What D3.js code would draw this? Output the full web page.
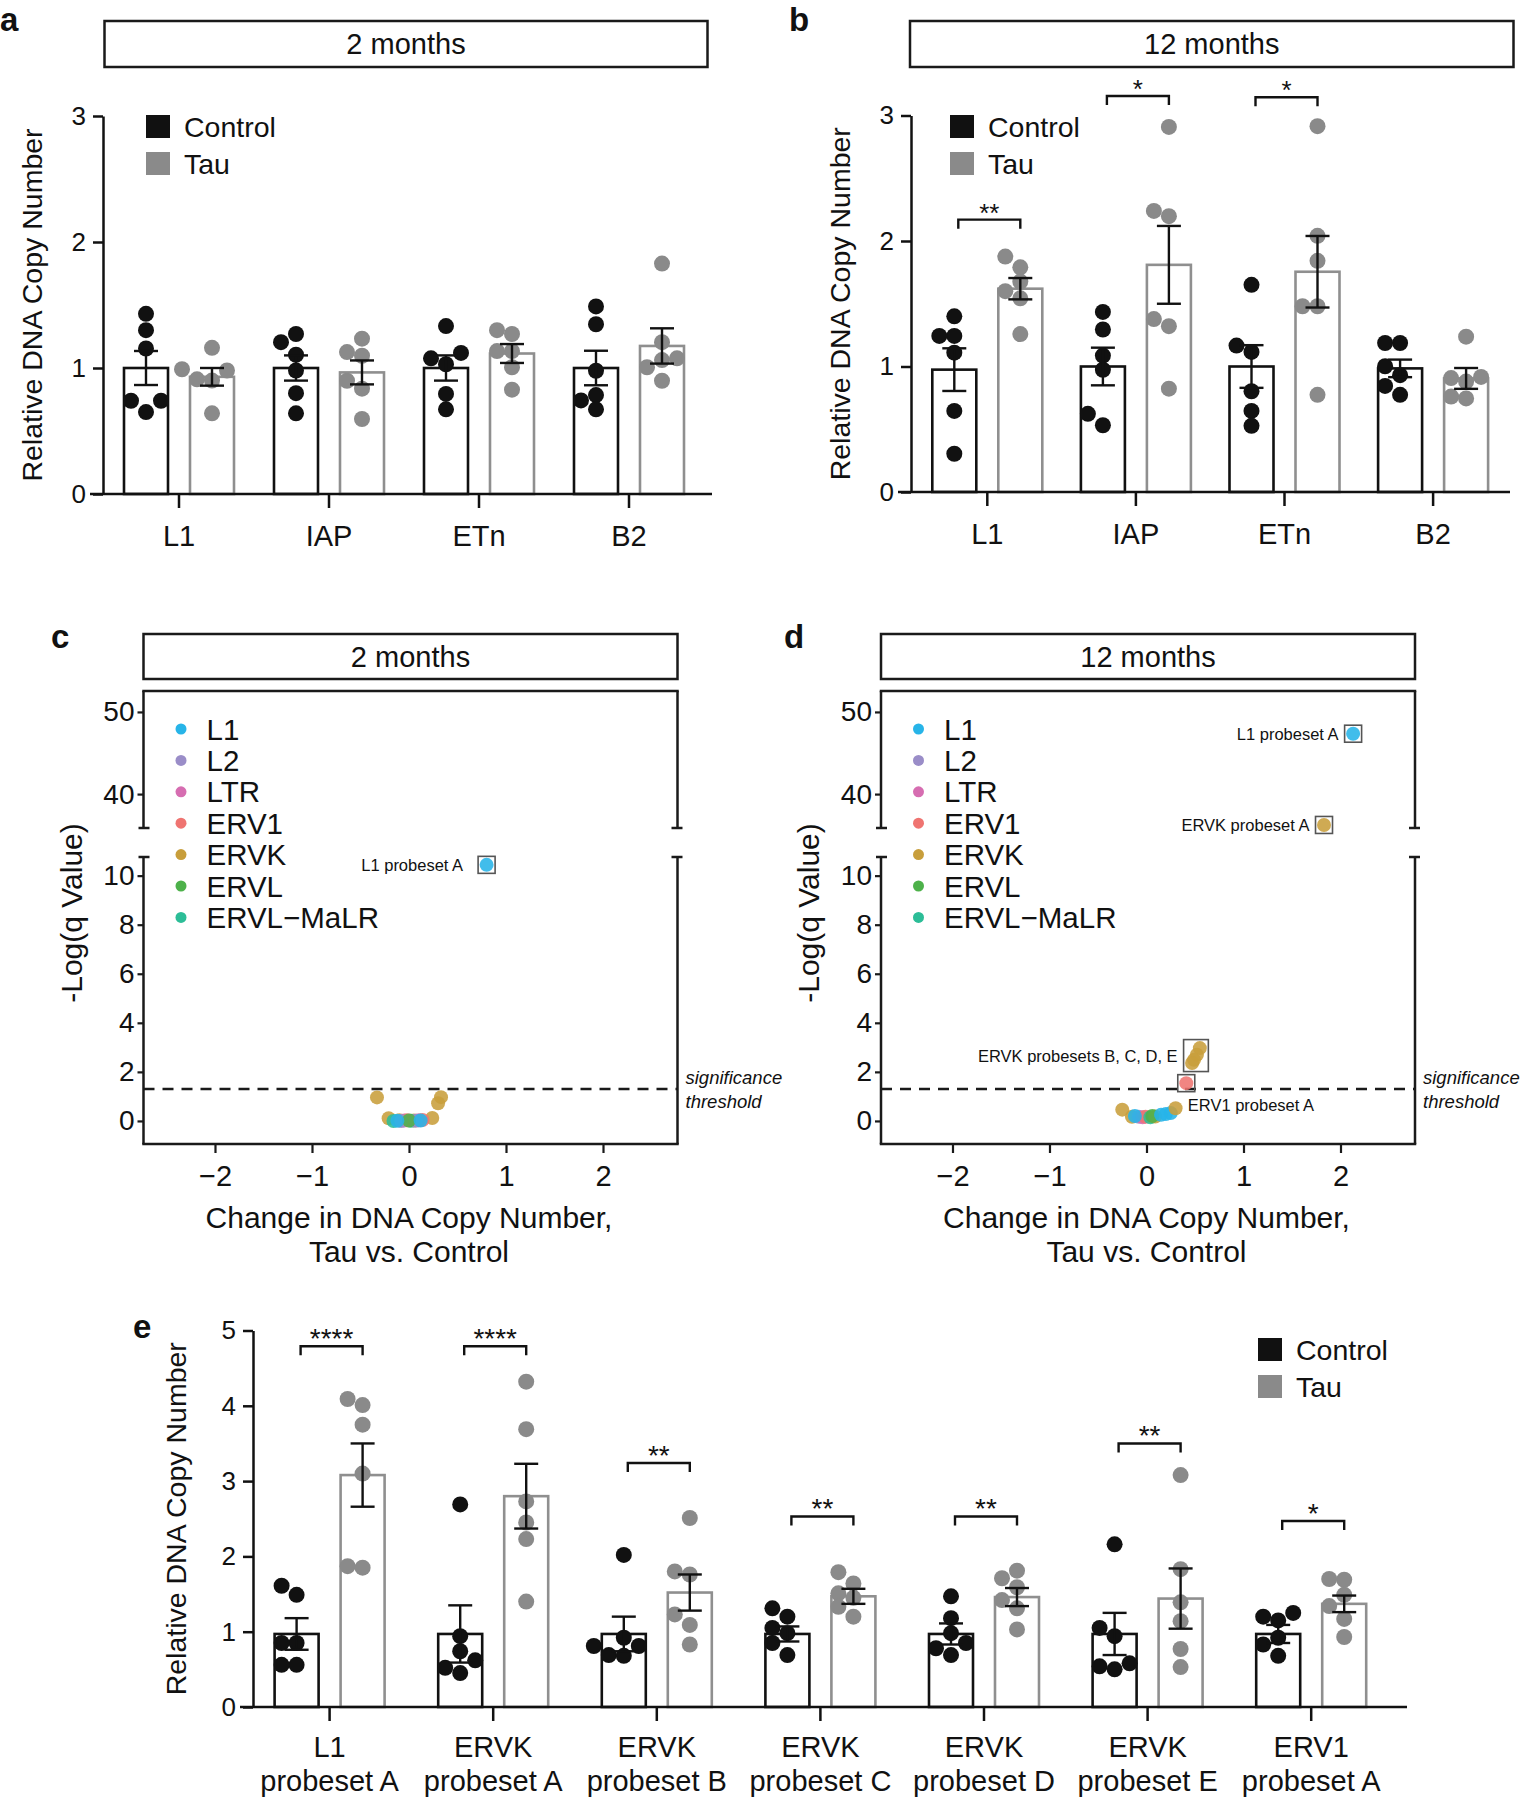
<!DOCTYPE html>
<html><head><meta charset="utf-8">
<script src="https://cdn.jsdelivr.net/npm/d3@7"></script>
<style>
body{margin:0;background:#fff}
svg{display:block}
text{font-family:"Liberation Sans",Arial,Helvetica,sans-serif;fill:#111}
</style>
</head><body>
<svg id="fig" width="1525" height="1800"></svg>
<script>
// ---------------- DATA ----------------
const abCategories = ["L1", "IAP", "ETn", "B2"];
const groups = ["Control", "Tau"];

// Panel a: 2 months
const aControlDots = [[1.43,1.30,1.155,0.74,0.74,0.65],[1.27,1.205,1.105,0.98,0.80,0.64],[1.333,1.12,1.077,1.03,0.794,0.672],[1.489,1.347,0.978,0.785,0.743,0.672]];
const aTauDots     = [[1.16,0.99,0.98,0.91,0.90,0.64],[1.233,1.126,1.097,0.899,0.836,0.595],[1.30,1.27,1.134,1.134,1.006,0.828],[1.829,1.205,1.077,1.063,1.006,0.899]];
const aControlMean = [1.00, 1.00, 1.00, 1.00];
const aControlSem  = [0.135, 0.10, 0.10, 0.137];
const aTauMean     = [0.93, 0.965, 1.115, 1.175];
const aTauSem      = [0.07, 0.095, 0.075, 0.14];
const aYTicks = [0, 1, 2, 3];

// Panel b: 12 months
const bControlDots = [[1.40,1.244,1.244,1.11,0.646,0.305],[1.435,1.295,1.087,0.974,0.623,0.532],[1.651,1.167,1.116,0.803,0.646,0.527],[1.187,1.187,1.002,0.931,0.845,0.774]];
const bTauDots     = [[1.876,1.79,1.677,1.60,1.543,1.258],[2.909,2.24,2.198,1.378,1.321,0.823],[2.915,2.041,1.842,1.48,1.48,0.774],[1.238,0.917,0.908,0.88,0.76,0.746]];
const bControlMean = [0.975, 1.00, 1.00, 0.985];
const bControlSem  = [0.17, 0.15, 0.17, 0.07];
const bTauMean     = [1.62, 1.81, 1.755, 0.905];
const bTauSem      = [0.085, 0.31, 0.285, 0.083];
const bSigCats   = ["L1", "IAP", "ETn"];
const bSigLevel  = [2.17, 3.155, 3.146];
const bSigLabels = ["**", "*", "*"];

// Panel e: probesets
const eCategories = ["L1 probeset A","ERVK probeset A","ERVK probeset B","ERVK probeset C","ERVK probeset D","ERVK probeset E","ERV1 probeset A"];
const eControlDots = [[1.61,1.49,0.85,0.85,0.56,0.56],[2.69,0.94,0.74,0.62,0.52,0.45],[2.02,0.92,0.81,0.81,0.69,0.68],[1.31,1.20,1.05,0.98,0.85,0.69],[1.47,1.18,0.98,0.85,0.78,0.69],[2.16,1.05,0.94,0.58,0.54,0.50],[1.25,1.20,1.15,0.92,0.83,0.68]];
const eTauDots     = [[4.09,4.01,3.75,3.10,1.87,1.85],[4.32,3.69,2.73,2.45,2.23,1.40],[2.51,1.80,1.76,1.23,1.09,0.83],[1.79,1.64,1.51,1.45,1.33,1.20],[1.81,1.71,1.59,1.42,1.31,1.03],[3.08,1.83,1.39,1.14,0.77,0.53],[1.70,1.69,1.49,1.34,1.17,0.93]];
const eControlMean = [0.97, 0.97, 0.97, 0.97, 0.97, 0.97, 0.97];
const eControlSem  = [0.21, 0.38, 0.23, 0.10, 0.14, 0.28, 0.12];
const eTauMean     = [3.08, 2.80, 1.52, 1.47, 1.46, 1.44, 1.37];
const eTauSem      = [0.42, 0.43, 0.24, 0.10, 0.12, 0.40, 0.11];
const eYTicks = [0, 1, 2, 3, 4, 5];
const eSigLevel  = [4.79, 4.79, 3.24, 2.53, 2.53, 3.50, 2.47];
const eSigLabels = ["****", "****", "**", "**", "**", "**", "*"];

// Panels c / d: volcano plots
const families = ["L1", "L2", "LTR", "ERV1", "ERVK", "ERVL", "ERVL\u2212MaLR"];
const familyColors = ["#27B4E8", "#9A8DC8", "#D66DB1", "#EF7471", "#C89E3B", "#4DB14A", "#2CBD97"];
const volcanoXTicks = [-2, -1, 0, 1, 2];
const volcanoUpperTicks = [40, 50];
const volcanoLowerTicks = [0, 2, 4, 6, 8, 10];
const significanceThreshold = 1.301;

const cFamily = ["L1","ERVK","ERVK","ERVK","ERVK","ERVK","ERVK","ERVK","ERVL\u2212MaLR","ERVL\u2212MaLR","LTR","LTR","ERV1","ERV1","L2","L2","ERVL","L1","L1"];
const cChange = [0.80,-0.33,0.33,0.30,-0.21,0.24,-0.10,0.05,-0.16,0.02,-0.05,0.10,-0.02,0.14,0.07,-0.08,0.00,0.12,-0.12];
const cNegLogQ = [10.44,0.96,0.97,0.72,0.11,0.12,0.03,0.02,0.00,0.01,0.02,0.03,0.03,0.04,0.01,0.00,0.02,0.02,0.01];
const cLabels = [{text: "L1 probeset A", points: [0]}];

const dFamily = ["L1","ERVK","ERVK","ERVK","ERVK","ERVK","ERV1","ERVK","ERVK","L2","LTR","ERV1","ERVL\u2212MaLR","ERVK","ERVL","L1","L1","L1","L1","ERVK"];
const dChange = [2.13,1.83,0.55,0.52,0.49,0.47,0.41,-0.25,-0.15,-0.08,-0.04,-0.01,0.04,0.09,0.06,-0.12,0.15,0.20,0.25,0.30];
const dNegLogQ = [47.35,36.24,2.97,2.70,2.49,2.36,1.54,0.46,0.17,0.17,0.15,0.17,0.15,0.18,0.20,0.20,0.25,0.28,0.32,0.52];
const dLabels = [
  {text: "L1 probeset A", points: [0]},
  {text: "ERVK probeset A", points: [1]},
  {text: "ERVK probesets B, C, D, E", points: [2,3,4,5]},
  {text: "ERV1 probeset A", points: [6], below: true}
];

// ---------------- DRAWING ----------------
const svg = d3.select("#fig");
svg.append("rect").attr("width",1525).attr("height",1800).attr("fill","#fff");
const INK = "#111", GREY = "#8a8a8a", GREY_BAR = "#8f8f8f";

function panelLetter(t, x, y){
  svg.append("text").attr("x",x).attr("y",y).attr("font-size",33).attr("font-weight","bold").text(t);
}
function titleBox(t, x0, x1, y0, y1){
  svg.append("rect").attr("x",x0).attr("y",y0).attr("width",x1-x0).attr("height",y1-y0)
    .attr("fill","#fff").attr("stroke","#1a1a1a").attr("stroke-width",2.5);
  svg.append("text").attr("x",(x0+x1)/2).attr("y",(y0+y1)/2).attr("dy","0.36em")
    .attr("text-anchor","middle").attr("font-size",29).text(t);
}

function swarm(vals, y, step, minD){
  const idx = vals.map((v,i)=>i).sort((a,b)=>vals[a]-vals[b]);
  const placed = [];
  const out = new Array(vals.length);
  const offs = [0,-1,1,-2,2,-3,3];
  idx.forEach(i=>{
    const py = y(vals[i]);
    for (const k of offs){
      const px = k*step;
      if (placed.every(p=>Math.hypot(p[0]-px,p[1]-py)>=minD)){ placed.push([px,py]); out[i]=px; break; }
    }
  });
  return out;
}

function barPanel(cfg){
  const g = svg.append("g");
  const y = d3.scaleLinear().domain([0,cfg.yMax]).range([cfg.y0, cfg.yTop]);
  const x = d3.scaleBand().domain(cfg.cats).range(cfg.band).padding(0);
  const cx = c => x(c) + x.bandwidth()/2;
  const off = 33, bw = 44, r = 8;
  const series = [
    {mean: cfg.ctrlMean, sem: cfg.ctrlSem, dots: cfg.ctrlDots, col: INK, barCol: INK, dx: -off},
    {mean: cfg.tauMean, sem: cfg.tauSem, dots: cfg.tauDots, col: GREY, barCol: GREY_BAR, dx: off}
  ];
  series.forEach(s=>{
    g.selectAll(null).data(cfg.cats).enter().append("rect")
      .attr("x", (c)=>cx(c)+s.dx-bw/2).attr("width", bw)
      .attr("y", (c,i)=>y(s.mean[i])).attr("height",(c,i)=>cfg.y0-y(s.mean[i]))
      .attr("fill","#fff").attr("stroke",s.barCol).attr("stroke-width",2.6);
  });
  series.forEach(s=>{
    cfg.cats.forEach((c,i)=>{
      const xs = swarm(s.dots[i], y, 15, 13.5);
      g.selectAll(null).data(s.dots[i]).enter().append("circle")
        .attr("cx",(v,j)=>cx(c)+s.dx+xs[j]).attr("cy",v=>y(v)).attr("r",r).attr("fill",s.col);
    });
  });
  series.forEach(s=>{
    cfg.cats.forEach((c,i)=>{
      const xc = cx(c)+s.dx, lo = y(s.mean[i]-s.sem[i]), hi = y(s.mean[i]+s.sem[i]);
      g.append("line").attr("x1",xc).attr("x2",xc).attr("y1",lo).attr("y2",hi).attr("stroke",INK).attr("stroke-width",2.4);
      [lo,hi].forEach(yy=>g.append("line").attr("x1",xc-12).attr("x2",xc+12).attr("y1",yy).attr("y2",yy).attr("stroke",INK).attr("stroke-width",2.4));
    });
  });
  const ya = g.append("g").attr("transform",`translate(${cfg.yAxisX},0)`)
    .call(d3.axisLeft(y).tickValues(cfg.yTicks).tickFormat(d3.format("d")).tickSize(10).tickSizeOuter(0).tickPadding(7));
  ya.selectAll("path,line").attr("stroke",INK).attr("stroke-width",2.5);
  ya.selectAll("text").attr("font-size",26).attr("fill",INK).attr("font-family",null);
  g.append("line").attr("x1",cfg.yAxisX-13).attr("x2",cfg.xEnd).attr("y1",cfg.y0).attr("y2",cfg.y0).attr("stroke",INK).attr("stroke-width",2.6);
  const xa = g.append("g").attr("transform",`translate(0,${cfg.y0})`)
    .call(d3.axisBottom(x).tickSize(14).tickSizeOuter(0).tickPadding(8).tickFormat(""));
  xa.select(".domain").remove();
  xa.selectAll("line").attr("stroke",INK).attr("stroke-width",2.5);
  xa.selectAll(".tick").each(function(c){
    const lines = cfg.twoLine ? [c.slice(0,c.indexOf(" ")), c.slice(c.indexOf(" ")+1)] : [c];
    lines.forEach((l,k)=>d3.select(this).append("text").attr("y", cfg.labelY[k]-cfg.y0)
      .attr("text-anchor","middle").attr("font-size",29).attr("fill",INK).attr("font-family",null).text(l));
  });
  g.append("text").attr("transform",`translate(${cfg.yTitleX},${(cfg.y0+cfg.yTop)/2}) rotate(-90)`)
    .attr("text-anchor","middle").attr("font-size",28.5).text("Relative DNA Copy Number");
  if (cfg.sig){
    cfg.sig.cats.forEach((c,i)=>{
      const x1 = cx(c)-off+4, x2 = cx(c)+off, yy = y(cfg.sig.level[i]);
      g.append("path").attr("d",`M${x1},${yy+9}V${yy}H${x2}V${yy+9}`).attr("fill","none").attr("stroke",INK).attr("stroke-width",2.4);
      g.append("text").attr("x",(x1+x2)/2).attr("y",yy+2).attr("text-anchor","middle").attr("font-size",cfg.starSize).text(cfg.sig.labels[i]);
    });
  }
  const lg = g.append("g");
  groups.forEach((gname,i)=>{
    lg.append("rect").attr("x",cfg.legX).attr("y",cfg.legY+i*37).attr("width",24).attr("height",23).attr("fill",i?GREY:INK);
    lg.append("text").attr("x",cfg.legX+38).attr("y",cfg.legY+i*37+11.5).attr("dy","0.36em").attr("font-size",28.5).text(gname);
  });
}

panelLetter("a", 0, 31);
titleBox("2 months", 104.5, 707.5, 21, 67);
barPanel({cats: abCategories, ctrlDots: aControlDots, tauDots: aTauDots, ctrlMean: aControlMean, ctrlSem: aControlSem,
  tauMean: aTauMean, tauSem: aTauSem, yMax: 3, yTicks: aYTicks, y0: 494, yTop: 116, band: [104, 704], yAxisX: 103,
  xEnd: 712, labelY: [546], yTitleX: 42, legX: 146, legY: 115});

panelLetter("b", 789, 31);
titleBox("12 months", 910, 1513.5, 21, 67);
barPanel({cats: abCategories, ctrlDots: bControlDots, tauDots: bTauDots, ctrlMean: bControlMean, ctrlSem: bControlSem,
  tauMean: bTauMean, tauSem: bTauSem, yMax: 3, yTicks: aYTicks, y0: 492, yTop: 115.5, band: [913, 1507.4], yAxisX: 911,
  xEnd: 1510, labelY: [544], yTitleX: 850, legX: 950, legY: 115, starSize: 26,
  sig: {cats: bSigCats, level: bSigLevel, labels: bSigLabels}});

panelLetter("e", 133, 1338);
barPanel({cats: eCategories, ctrlDots: eControlDots, tauDots: eTauDots, ctrlMean: eControlMean, ctrlSem: eControlSem,
  tauMean: eTauMean, tauSem: eTauSem, yMax: 5, yTicks: eYTicks, y0: 1707, yTop: 1330.5, band: [247.8, 1393], yAxisX: 253,
  xEnd: 1407, labelY: [1757, 1791], twoLine: true, yTitleX: 186, legX: 1258, legY: 1338, starSize: 28,
  sig: {cats: eCategories, level: eSigLevel, labels: eSigLabels}});

// ---------------- VOLCANO ----------------
function volcano(cfg){
  const g = svg.append("g");
  const x0 = cfg.x0, x1 = cfg.x0 + 534;
  const uTop = 691, uBot = 828, lTop = 857, lBot = 1144;
  const x = d3.scaleLinear().domain([-2.737, 2.768]).range([x0, x1]);
  const yU = d3.scaleLinear().domain([35.87, 52.55]).range([uBot, uTop]);
  const yL = d3.scaleLinear().domain([-0.94, 10.76]).range([lBot, lTop]);
  const Y = v => v > 20 ? yU(v) : yL(v);
  const S = {stroke:"#1a1a1a","stroke-width":2.5};
  const ln = (a,b,c,d)=>{ const l=g.append("line").attr("x1",a).attr("y1",b).attr("x2",c).attr("y2",d); for(const k in S) l.attr(k,S[k]); };
  ln(x0-1.25,uTop,x1+1.25,uTop); ln(x0,uTop,x0,uBot); ln(x1,uTop,x1,uBot);
  ln(x0-5,uBot,x0+6,uBot); ln(x1-6,uBot,x1+5,uBot);
  ln(x0-5,lTop,x0+6,lTop); ln(x1-6,lTop,x1+5,lTop);
  ln(x0,lTop,x0,lBot); ln(x1,lTop,x1,lBot); ln(x0-1.25,lBot,x1+1.25,lBot);
  const styleAx = a => { a.select(".domain").remove(); a.selectAll("line").attr("stroke","#1a1a1a").attr("stroke-width",2.2);
    a.selectAll("text").attr("font-size",28).attr("fill",INK).attr("font-family",null); };
  styleAx(g.append("g").attr("transform",`translate(${x0},0)`).call(d3.axisLeft(yU).tickValues(volcanoUpperTicks).tickSize(6).tickPadding(3)));
  styleAx(g.append("g").attr("transform",`translate(${x0},0)`).call(d3.axisLeft(yL).tickValues(volcanoLowerTicks).tickSize(6).tickPadding(3)));
  const xa = g.append("g").attr("transform",`translate(0,${lBot})`)
    .call(d3.axisBottom(x).tickValues(volcanoXTicks).tickFormat(d3.format("d")).tickSize(9).tickPadding(12));
  styleAx(xa); xa.selectAll("text").attr("font-size",29);
  g.append("text").attr("x",x(0)).attr("y",1228).attr("text-anchor","middle").attr("font-size",30).text("Change in DNA Copy Number,");
  g.append("text").attr("x",x(0)).attr("y",1262).attr("text-anchor","middle").attr("font-size",30).text("Tau vs. Control");
  g.append("text").attr("transform",`translate(${x0-62},913) rotate(-90)`).attr("text-anchor","middle").attr("font-size",30).text("-Log(q Value)");
  g.append("line").attr("x1",x0).attr("x2",x1).attr("y1",yL(significanceThreshold)).attr("y2",yL(significanceThreshold))
    .attr("stroke","#1a1a1a").attr("stroke-width",2.5).attr("stroke-dasharray","11,8");
  g.append("text").attr("x",x1+8).attr("y",1084).attr("font-size",18.5).attr("font-style","italic").text("significance");
  g.append("text").attr("x",x1+8).attr("y",1108).attr("font-size",18.5).attr("font-style","italic").text("threshold");
  families.forEach((f,i)=>{
    const yy = 729 + i*31.4;
    g.append("circle").attr("cx",x0+37.5).attr("cy",yy).attr("r",5.5).attr("fill",familyColors[i]);
    g.append("text").attr("x",x0+63).attr("y",yy).attr("dy","0.36em").attr("font-size",29.5).text(f);
  });
  const col = f => familyColors[families.indexOf(f)];
  g.selectAll(null).data(cfg.fam.map((f,i)=>i)).enter().append("circle")
    .attr("cx",i=>x(cfg.xs[i])).attr("cy",i=>Y(cfg.ys[i])).attr("r",7)
    .attr("fill",i=>col(cfg.fam[i])).attr("fill-opacity",0.88);
  cfg.labels.forEach(a=>{
    const px = a.points.map(i=>x(cfg.xs[i])), py = a.points.map(i=>Y(cfg.ys[i]));
    const bx0 = d3.min(px)-8.5, bx1 = d3.max(px)+8.5, by0 = d3.min(py)-8.5, by1 = d3.max(py)+8.5;
    g.append("rect").attr("x",bx0).attr("y",by0).attr("width",bx1-bx0).attr("height",by1-by0)
      .attr("fill","none").attr("stroke","#555").attr("stroke-width",1.6);
    if (a.below){
      g.append("text").attr("x",bx0+10).attr("y",by1+19).attr("font-size",16.5).text(a.text);
    } else {
      g.append("text").attr("x",bx0-cfg.gap).attr("y",(by0+by1)/2).attr("dy","0.36em").attr("text-anchor","end").attr("font-size",16.5).text(a.text);
    }
  });
}

panelLetter("c", 51, 648);
titleBox("2 months", 143.5, 677.5, 634, 679);
volcano({x0: 143.5, fam: cFamily, xs: cChange, ys: cNegLogQ, labels: cLabels, gap: 15});

panelLetter("d", 784, 648);
titleBox("12 months", 881, 1415, 634, 679);
volcano({x0: 881, fam: dFamily, xs: dChange, ys: dNegLogQ, labels: dLabels, gap: 6});
</script>
</body></html>
